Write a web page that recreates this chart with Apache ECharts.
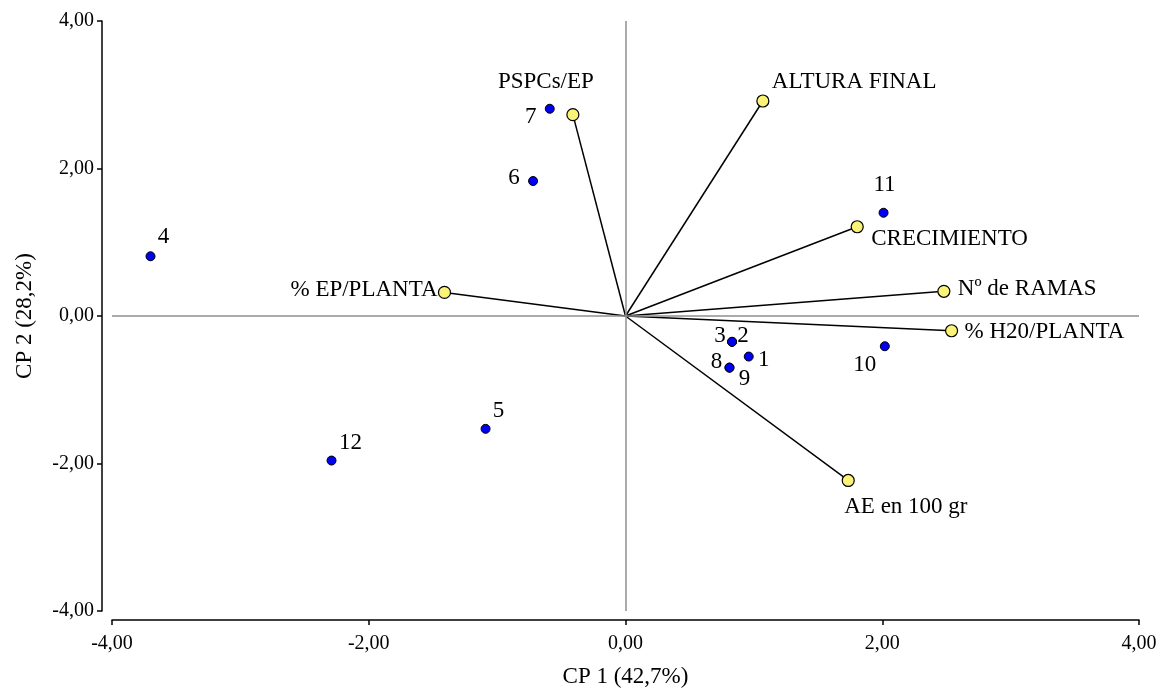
<!DOCTYPE html>
<html>
<head>
<meta charset="utf-8">
<script src="https://cdn.jsdelivr.net/npm/echarts@6/dist/echarts.min.js"></script>
<style>
  html, body { margin: 0; padding: 0; background: #fff; }
  #chart { width: 1166px; height: 693px; }
</style>
</head>
<body>
<div id="chart"></div>
<script>
// Biplot: observation scores (blue) and variable vectors (yellow) on CP 1 / CP 2
const obsLabels = ['1', '2', '3', '4', '5', '6', '7', '8', '9', '10', '11', '12'];
const obsX = [0.96, 0.83, 0.83, -3.70, -1.09, -0.72, -0.59, 0.81, 0.81, 2.02, 2.01, -2.29];
const obsY = [-0.55, -0.35, -0.35, 0.81, -1.53, 1.83, 2.81, -0.70, -0.70, -0.41, 1.40, -1.96];

const varNames = ['% EP/PLANTA', 'PSPCs/EP', 'ALTURA FINAL', 'CRECIMIENTO', 'Nº de RAMAS', '% H20/PLANTA', 'AE en 100 gr'];
const varX = [-1.41, -0.41, 1.07, 1.805, 2.48, 2.54, 1.735];
const varY = [0.32, 2.73, 2.915, 1.21, 0.335, -0.20, -2.23];

const axisTicks = [-4, -2, 0, 2, 4];
const xTitle = 'CP 1 (42,7%)';
const yTitle = 'CP 2 (28,2%)';

// label placement around each marker: [align, dx, dy]
const obsLabelPos = {
  '1': ['center', 15, 3], '2': ['center', 11, -6], '3': ['center', -12, -6],
  '4': ['center', 13, -19], '5': ['center', 13, -18], '6': ['center', -19, -3],
  '7': ['center', -19, 8], '8': ['center', -13, -6], '9': ['center', 15, 11],
  '10': ['center', -20, 19], '11': ['center', 1, -28], '12': ['center', 19, -18]
};
const varLabelPos = {
  '% EP/PLANTA': ['right', -7, -2], 'PSPCs/EP': ['center', -27, -33],
  'ALTURA FINAL': ['left', 9, -19], 'CRECIMIENTO': ['left', 14, 12],
  'Nº de RAMAS': ['left', 14, -2], '% H20/PLANTA': ['left', 13, 1],
  'AE en 100 gr': ['left', -4, 26]
};

const FONT = '"Liberation Serif", "Times New Roman", serif';
const fmt = v => v.toFixed(2).replace('.', ',');

function labelFor(pos) {
  return {
    show: true, position: 'inside', align: pos[0], verticalAlign: 'middle',
    offset: [pos[1], pos[2]], color: '#000', fontFamily: FONT, fontSize: 23
  };
}

const series = [];

// vectors from the origin to each variable
varNames.forEach((n, i) => {
  series.push({
    type: 'line', silent: true, z: 2, showSymbol: false, symbol: 'none',
    data: [[0, 0], [varX[i], varY[i]]],
    lineStyle: { color: '#000', width: 1.5 }, animation: false
  });
});

// reference lines through the origin
series.push({
  type: 'scatter', data: [], silent: true, z: 1,
  markLine: {
    silent: true, symbol: 'none', animation: false, label: { show: false },
    lineStyle: { color: '#8f8f8f', width: 1.5, type: 'solid' },
    data: [{ xAxis: 0 }, { yAxis: 0 }]
  }
});

series.push({
  type: 'scatter', z: 4, symbol: 'circle', symbolSize: 12,
  itemStyle: { color: '#fbf377', borderColor: '#000', borderWidth: 1.2, opacity: 1 },
  data: varNames.map((n, i) => ({ value: [varX[i], varY[i]], name: n, label: labelFor(varLabelPos[n]) })),
  label: { formatter: p => p.name }, animation: false
});

series.push({
  type: 'scatter', z: 5, symbol: 'circle', symbolSize: 9,
  itemStyle: { color: '#0000f0', borderColor: '#000', borderWidth: 1, opacity: 1 },
  data: obsLabels.map((n, i) => ({ value: [obsX[i], obsY[i]], name: n, label: labelFor(obsLabelPos[n]) })),
  label: { formatter: p => p.name }, animation: false
});

const axisCommon = {
  type: 'value', min: axisTicks[0], max: axisTicks[axisTicks.length - 1], interval: 2,
  splitLine: { show: false },
  axisLine: { show: true, onZero: false, lineStyle: { color: '#000', width: 1.5 } },
  axisTick: { show: true, length: 5, lineStyle: { color: '#000', width: 1.5 } },
  nameLocation: 'middle',
  nameTextStyle: { color: '#000', fontFamily: FONT, fontSize: 23 }
};

const chart = echarts.init(document.getElementById('chart'), null, { renderer: 'canvas' });
chart.setOption({
  animation: false,
  backgroundColor: '#fff',
  grid: { left: 112, right: 27, top: 21, bottom: 80, containLabel: false },
  xAxis: Object.assign({}, axisCommon, {
    offset: 9, name: xTitle, nameGap: 45,
    axisLabel: { formatter: fmt, margin: 14, color: '#000', fontFamily: FONT, fontSize: 20 }
  }),
  yAxis: Object.assign({}, axisCommon, {
    offset: 10, name: yTitle, nameGap: 66,
    axisLabel: { formatter: fmt, margin: 8, color: '#000', fontFamily: FONT, fontSize: 20 }
  }),
  series: series
});
</script>
</body>
</html>
